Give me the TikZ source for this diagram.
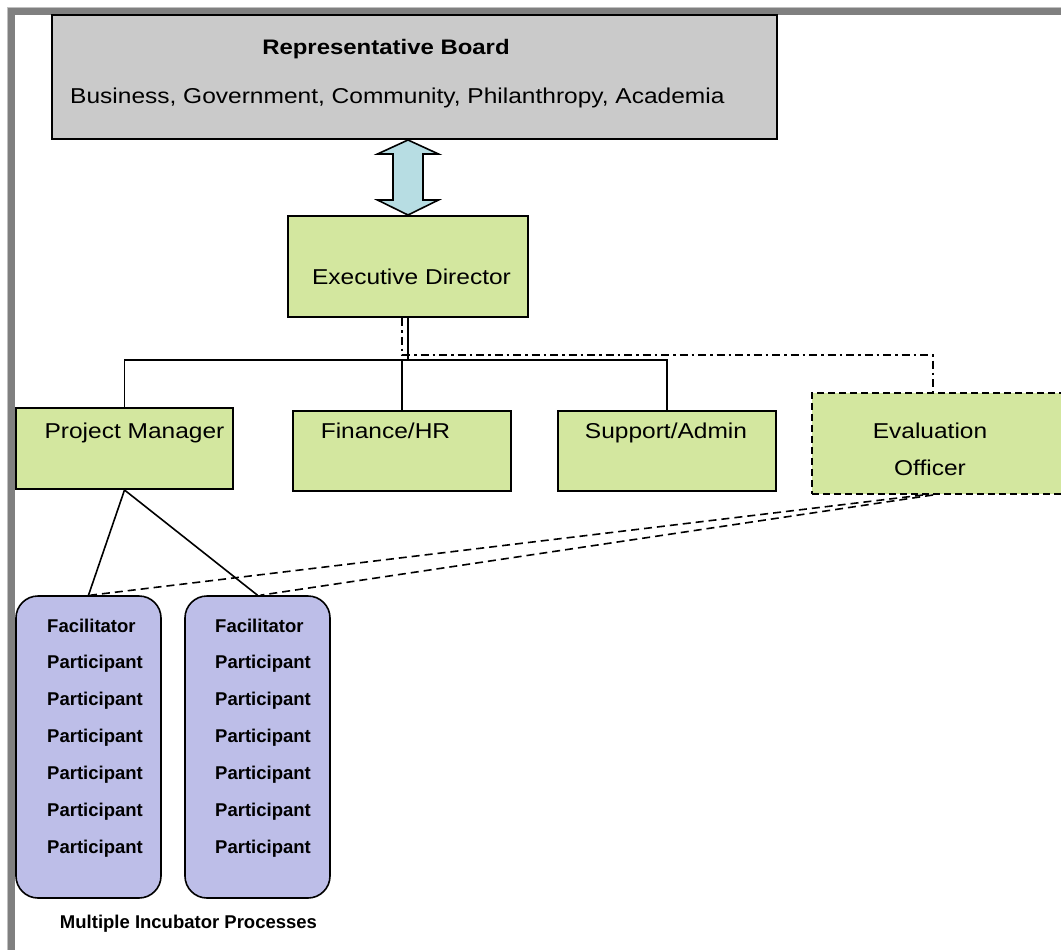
\documentclass[tikz,border=0pt]{standalone}
\usepackage{fontspec}
\setmainfont{Liberation Sans}
\newfontfamily\widesans[FakeStretch=1.14]{Liberation Sans}
\usetikzlibrary{calc}

\definecolor{framegray}{HTML}{808080}
\definecolor{frameedge}{HTML}{C0C0C0}
\definecolor{boardfill}{HTML}{CACACA}
\definecolor{staffgreen}{HTML}{D3E79F}
\definecolor{groupblue}{HTML}{BDBEE8}
\definecolor{linkcyan}{HTML}{B7DDE3}

\tikzset{
  boardbox/.style={draw=black, line width=2pt, fill=boardfill, inner sep=0pt},
  staffbox/.style={draw=black, line width=2pt, fill=staffgreen, inner sep=0pt},
  groupbox/.style={draw=black, line width=1.6pt, fill=groupblue, rounded corners=22pt, inner sep=0pt},
  bigtext/.style={font=\widesans\fontsize{21.5}{37}\selectfont, inner sep=0pt, anchor=base},
  smalltext/.style={font=\fontsize{18.5}{37}\selectfont\bfseries, inner sep=0pt, anchor=base},
  reportline/.style={draw=black, line width=1.6pt},
  advisoryline/.style={draw=black, line width=1.6pt, dash pattern=on 8pt off 4pt on 2.5pt off 4pt},
  evalline/.style={draw=black, line width=1.6pt, dash pattern=on 8pt off 5pt},
}

\begin{document}
\begin{tikzpicture}[x=1pt,y=-1pt]
\useasboundingbox (0,0) rectangle (1061,950);
\clip (0,0) rectangle (1061,950);
\fill[white] (0,0) rectangle (1061,950);

% page frame along the top and left edges
\draw[frameedge, line width=1pt] (7.5,960) -- (7.5,7.5) -- (1070,7.5);
\draw[framegray, line width=7pt, line join=miter] (11.5,960) -- (11.5,11.5) -- (1070,11.5);

% board
\node[boardbox, minimum width=725pt, minimum height=124pt] (board) at (414.5,77) {};
\node[bigtext, font=\widesans\bfseries\fontsize{21}{37}\selectfont] (boardtitle) at (386,55) {Representative Board};
\node[bigtext, anchor=base west] (boardmembers) at (70,103) {Business, Government, Community, Philanthropy, Academia};

% staff
\node[staffbox, minimum width=240pt, minimum height=101pt] (ed) at (408,266.5) {};
\node[bigtext] (edtext) at (411.5,284) {Executive Director};

\node[staffbox, minimum width=217pt, minimum height=81pt] (pm) at (124.5,448.5) {};
\node[bigtext] (pmtext) at (134.5,438) {Project Manager};

\node[staffbox, minimum width=218pt, minimum height=80pt] (fin) at (402,451) {};
\node[bigtext] (fintext) at (385.5,438) {Finance/HR};

\node[staffbox, minimum width=218pt, minimum height=80pt] (sup) at (667,451) {};
\node[bigtext] (suptext) at (666,438) {Support/Admin};

\node[staffbox, dash pattern=on 7pt off 4pt, minimum width=258pt, minimum height=101pt] (eo) at (941,443.5) {};
\node[bigtext] (eotext1) at (930,438) {Evaluation};
\node[bigtext] (eotext2) at (930,475) {Officer};

% two-way link between board and director
\coordinate (lt) at (ed.north |- board.south);
\coordinate (lb) at (ed.north);
\filldraw[fill=linkcyan, draw=black, line width=1.6pt, line join=miter]
  (lt) -- ($(lt)+(30.5,14)$) -- ($(lt)+(15,14)$) -- ($(lb)+(15,-15)$) -- ($(lb)+(30.5,-15)$)
  -- (lb) -- ($(lb)+(-30.5,-15)$) -- ($(lb)+(-15,-15)$) -- ($(lt)+(-15,14)$) -- ($(lt)+(-30.5,14)$) -- cycle;

% incubator groups
\node[groupbox, minimum width=145pt, minimum height=302pt] (g1) at (88.5,747) {};
\node[groupbox, minimum width=145pt, minimum height=302pt] (g2) at (257.5,747) {};
\foreach \g/\lx in {g1/47, g2/215} {
  \node[smalltext, anchor=base west] (\g-fac) at (\lx,632) {Facilitator};
  \foreach \i in {0,...,5}
    \node[smalltext, anchor=base west] (\g-p\i) at (\lx,668+37*\i) {Participant};
}
\node[smalltext] (groupscaption) at (188.5,928) {Multiple Incubator Processes};

% reporting lines
\draw[reportline] (ed.south) -- (ed.south |- 0,360);
\draw[reportline] (pm.north) -- (pm.north |- 0,360) -| (sup.north);
\draw[reportline] (fin.north) -- (fin.north |- 0,360);
\draw[advisoryline] ([xshift=-6pt]ed.south) -- ([xshift=-6pt]ed.south |- 0,355) -| ([xshift=-8pt]eo.north);
\draw[reportline] (pm.south) -- (g1.north);
\draw[reportline] (pm.south) -- (g2.north);
\draw[evalline] ([xshift=-18pt]eo.south) -- ([xshift=2pt]g1.north);
\draw[evalline] ([xshift=-8pt]eo.south) -- ([xshift=3pt]g2.north);
\end{tikzpicture}
\end{document}
